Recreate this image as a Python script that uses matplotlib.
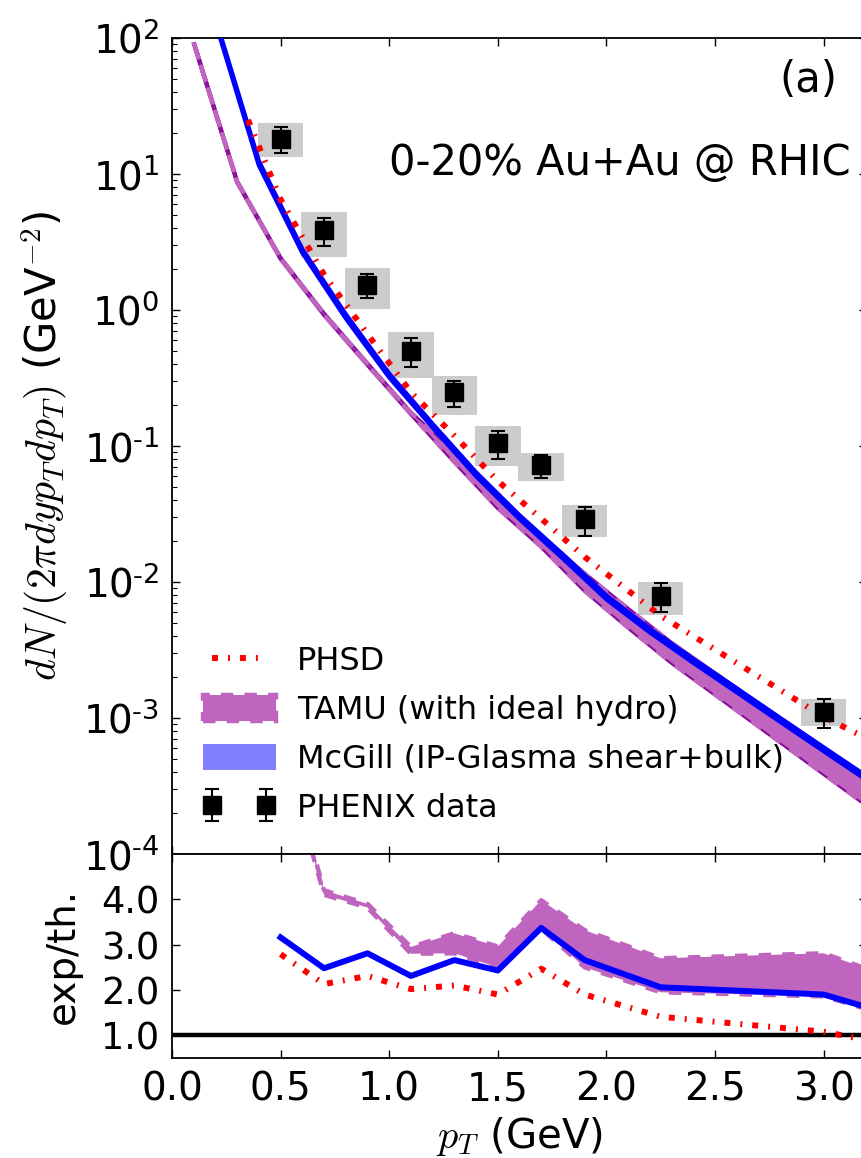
import numpy as np
import matplotlib
matplotlib.use('Agg')
import matplotlib.pyplot as plt
from matplotlib.ticker import FixedLocator, FuncFormatter, LogLocator, NullFormatter

plt.rcParams['font.family'] = ['DejaVu Sans']
plt.rcParams['mathtext.fontset'] = 'cm'
plt.rcParams['lines.scale_dashes'] = False

# ---------------- data ----------------
# PHENIX direct photons, 0-20% Au+Au
pt_data = [0.5, 0.7, 0.9, 1.1, 1.3, 1.5, 1.7, 1.9, 2.25, 3.0]
yield_data = [18.1, 3.87, 1.53, 0.50, 0.249, 0.105, 0.0724, 0.029, 0.0079, 0.00111]
stat_lo = [14.3, 2.96, 1.22, 0.38, 0.194, 0.080, 0.0582, 0.0218, 0.0060, 0.00084]
stat_hi = [22.2, 4.74, 1.84, 0.62, 0.30, 0.129, 0.0859, 0.0356, 0.00984, 0.00138]
sys_lo = [13.3, 2.45, 1.02, 0.316, 0.169, 0.071, 0.0553, 0.0214, 0.00571, 0.00087]
sys_hi = [23.7, 5.26, 2.04, 0.69, 0.327, 0.140, 0.0889, 0.0368, 0.0100, 0.00138]

# McGill (IP-Glasma shear+bulk)
pt_mcgill = [0.2, 0.4, 0.6, 0.8, 1.0, 1.2, 1.4, 1.6, 1.8, 2.0, 2.2, 2.4, 2.6, 2.8, 3.0, 3.2, 3.4]
mcgill_hi = [139, 12.4, 2.80, 0.93, 0.340, 0.145, 0.0639, 0.0309, 0.0159, 0.00793, 0.00453,
             0.00271, 0.00165, 0.00100, 0.000608, 0.000371, 0.000227]
mcgill_lo = [131, 11.6, 2.64, 0.87, 0.320, 0.137, 0.0601, 0.0291, 0.0149, 0.00747, 0.00427,
             0.00255, 0.00155, 0.00094, 0.000572, 0.000349, 0.000213]

# TAMU (ideal hydro)
pt_tamu = [0.1, 0.3, 0.5, 0.7, 0.9, 1.1, 1.3, 1.5, 1.7, 1.9, 2.1, 2.3, 2.5, 2.7, 2.9, 3.1, 3.3]
tamu_lo = [92, 8.7, 2.38, 0.92, 0.395, 0.172, 0.0766, 0.0350, 0.0182, 0.00863, 0.00463,
           0.00255, 0.00149, 0.00087, 0.000509, 0.000297, 0.000174]
tamu_hi = [93, 8.8, 2.41, 0.94, 0.403, 0.176, 0.088, 0.0412, 0.0218, 0.0115, 0.00634,
           0.00356, 0.00213, 0.00127, 0.000762, 0.000455, 0.000272]

# PHSD
pt_phsd = [0.35, 0.5, 0.7, 0.9, 1.1, 1.3, 1.5, 1.7, 1.9, 2.25, 3.0, 3.4]
phsd = [25, 6.49, 1.82, 0.665, 0.248, 0.119, 0.0553, 0.0292, 0.0153, 0.00564, 0.00102, 0.00049]

# ratios exp/th.
pt_ratio = [0.5, 0.7, 0.9, 1.1, 1.3, 1.5, 1.7, 1.9, 2.25, 3.0, 3.5]
ratio_mcgill = [3.16, 2.48, 2.81, 2.31, 2.66, 2.43, 3.37, 2.66, 2.06, 1.90, 1.20]
ratio_phsd = [2.79, 2.13, 2.31, 2.02, 2.10, 1.90, 2.47, 1.90, 1.41, 1.08, 0.62]
ratio_tamu_hi = [7.6, 4.20, 3.90, 2.95, 3.25, 2.96, 3.98, 3.32, 2.70, 2.81, 1.95]
ratio_tamu_lo = [7.5, 4.10, 3.82, 2.80, 2.81, 2.50, 3.35, 2.50, 1.95, 1.86, 1.15]

x_ticks = [0.0, 0.5, 1.0, 1.5, 2.0, 2.5, 3.0]
ratio_ticks = [1.0, 2.0, 3.0, 4.0]
log_ticks = [1e-4, 1e-3, 1e-2, 1e-1, 1e0, 1e1, 1e2]

# ---------------- style ----------------
C_RED = '#ff0000'
C_BLUE = '#0000ff'
C_ORCHID = '#bf65bf'
C_PURPLE = '#880a9a'
C_BOX = '#cccccc'
red_dash = (0, (4.3, 7.2, 1.4, 7.2))
band_dash = (0, (9, 8))

fig = plt.figure(figsize=(8.61, 11.58), dpi=100)
L = 172 / 861.0
W = (867 - 172) / 861.0
ax1 = fig.add_axes([L, 1 - 854 / 1158.0, W, (854 - 38) / 1158.0])
ax2 = fig.add_axes([L, 1 - 1058 / 1158.0, W, (1058 - 854) / 1158.0], sharex=ax1)

# ---------------- top panel ----------------
pt_arr = np.array(pt_data)
ax1.bar(pt_arr, np.array(sys_hi) - np.array(sys_lo), bottom=sys_lo, width=0.21,
        color=C_BOX, linewidth=0, zorder=1)

ax1.plot(pt_tamu, tamu_lo, color=C_PURPLE, lw=3.0, zorder=2, solid_capstyle='butt')
ax1.plot(pt_tamu, tamu_hi, color=C_PURPLE, lw=3.0, zorder=2, solid_capstyle='butt')
tamu_band = ax1.fill_between(pt_tamu, tamu_lo, tamu_hi, facecolor=C_ORCHID, edgecolor=C_ORCHID,
                             linestyle=band_dash, lw=3.2, zorder=2.5,
                             label='TAMU (with ideal hydro)')

mcg_band = ax1.fill_between(pt_mcgill, mcgill_lo, mcgill_hi, color=C_BLUE, alpha=0.5, lw=0,
                            zorder=3, label='McGill (IP-Glasma shear+bulk)')
ax1.plot(pt_mcgill, mcgill_lo, color=C_BLUE, lw=3.2, zorder=3)
ax1.plot(pt_mcgill, mcgill_hi, color=C_BLUE, lw=3.2, zorder=3)

phsd_line, = ax1.plot(pt_phsd, phsd, color=C_RED, lw=4.3, linestyle=red_dash, zorder=4,
                      label='PHSD')

yerr = [np.array(yield_data) - np.array(stat_lo), np.array(stat_hi) - np.array(yield_data)]
eb = ax1.errorbar(pt_data, yield_data, yerr=yerr, fmt='s', color='k', ms=13, mec='k',
                  elinewidth=1.5, capsize=5, capthick=1.5, zorder=5, label='PHENIX data')

ax1.set_yscale('log')
ax1.set_ylim(1e-4, 1e2)
ax1.set_xlim(0, 3.2)


def log_fmt(v, p):
    e = int(round(np.log10(v)))
    if e < 0:
        return r'$\mathregular{10^{\text{-}%d}}$' % (-e)
    return r'$\mathregular{10^{%d}}$' % e


ax1.yaxis.set_major_locator(FixedLocator(log_ticks))
ax1.yaxis.set_major_formatter(FuncFormatter(log_fmt))
ax1.yaxis.set_minor_locator(LogLocator(base=10, subs=np.arange(2, 10), numticks=20))
ax1.yaxis.set_minor_formatter(NullFormatter())
ax1.set_ylabel(r'$dN/(2\pi dyp_Tdp_T)$ (GeV$^{-2}$)', fontsize=30)
ax1.yaxis.set_label_coords(-0.145, 0.5)

ax1.text(0.957, 0.934, '(a)', transform=ax1.transAxes, ha='right', va='baseline', fontsize=30)
ax1.text(0.977, 0.832, '0-20% Au+Au @ RHIC', transform=ax1.transAxes, ha='right',
         va='baseline', fontsize=30)

ax1.legend([phsd_line, tamu_band, mcg_band, eb],
           ['PHSD', 'TAMU (with ideal hydro)', 'McGill (IP-Glasma shear+bulk)', 'PHENIX data'],
           loc='lower left', bbox_to_anchor=(0.044, 0.037), frameon=False, fontsize=23,
           numpoints=2, handlelength=2.3, handletextpad=0.65, labelspacing=0.55,
           handleheight=0.9, borderpad=0, borderaxespad=0)

# ---------------- bottom panel ----------------
ax2.axhline(1.0, color='k', lw=3.2, zorder=1)
ax2.fill_between(pt_ratio, ratio_tamu_lo, ratio_tamu_hi, facecolor=C_ORCHID, edgecolor=C_ORCHID,
                 linestyle=band_dash, lw=3.2, zorder=2)
ax2.plot(pt_ratio, ratio_mcgill, color=C_BLUE, lw=4.3, zorder=3)
ax2.plot(pt_ratio, ratio_phsd, color=C_RED, lw=4.3, linestyle=red_dash, zorder=4)
ax2.set_ylim(0.5, 5.0)
ax2.yaxis.set_major_locator(FixedLocator(ratio_ticks))
ax2.yaxis.set_major_formatter(FuncFormatter(lambda v, p: '%.1f' % v))
ax2.set_ylabel('exp/th.', fontsize=28)
ax2.yaxis.set_label_coords(-0.13, 0.5)

ax2.xaxis.set_major_locator(FixedLocator(x_ticks))
ax2.xaxis.set_major_formatter(FuncFormatter(lambda v, p: '%.1f' % v))
ax2.set_xlabel(r'$p_T$ (GeV)', fontsize=29)
ax2.xaxis.set_label_coords(0.5, -0.28)

for ax in (ax1, ax2):
    ax.tick_params(which='both', direction='in', top=True, right=True)
    ax.tick_params(which='major', length=6, width=1.0, labelsize=28, pad=9)
    ax.tick_params(which='minor', length=3.5, width=0.8)
    for s in ax.spines.values():
        s.set_linewidth(1.3)
ax2.tick_params(axis='y', which='major', labelsize=26.5)
ax1.tick_params(axis='x', labelbottom=False)
ax2.tick_params(axis='x', which='minor', bottom=False, top=False)
ax1.tick_params(axis='x', which='minor', bottom=False, top=False)
ax2.tick_params(axis='y', which='minor', left=False, right=False)

fig.savefig('out.png', dpi=100)
